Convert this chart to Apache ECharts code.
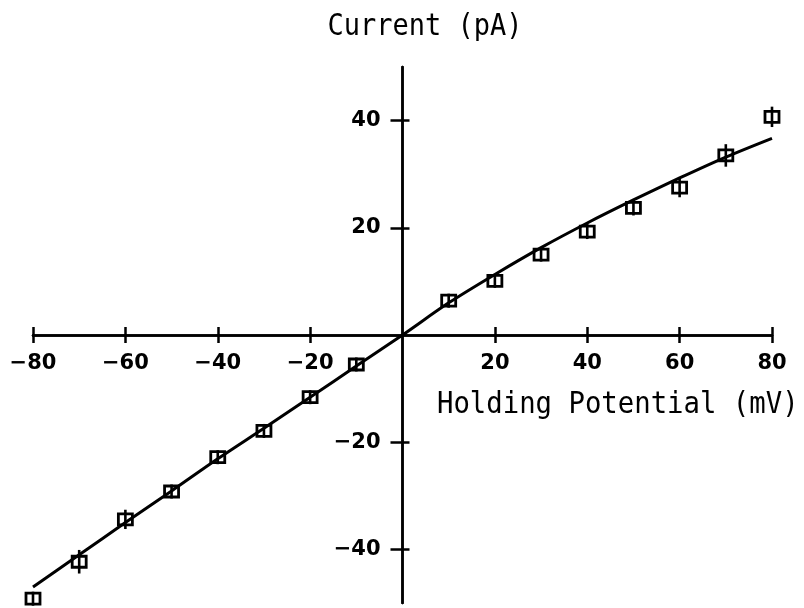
<!DOCTYPE html>
<html>
<head>
<meta charset="utf-8">
<script src="https://cdn.jsdelivr.net/npm/echarts@6/dist/echarts.min.js"></script>
<style>html,body{margin:0;padding:0;background:#fff}#c{width:804px;height:608px}</style>
</head>
<body>
<div id="c"></div>
<script>
// Measured points: holding potential (mV), current (pA), error (pA)
const voltages = [-80, -70, -60, -50, -40, -30, -20, -10, 10, 20, 30, 40, 50, 60, 70, 80];
const currents = [-49.2, -42.3, -34.4, -29.2, -22.8, -17.9, -11.6, -5.5, 6.4, 10.1, 15.0, 19.3, 23.7, 27.5, 33.5, 40.7];
const errors   = [1.2, 2.2, 1.8, 1.0, 1.0, 1.0, 1.0, 1.0, 1.0, 1.0, 1.1, 1.4, 1.4, 1.8, 2.1, 1.9];
// Fitted curve
const fitV = [-80, -70, -60, -50, -40, -30, -20, -10, 0, 10, 20, 30, 40, 50, 60, 70, 80];
const fitI = [-47.0, -41.0, -35.0, -29.1, -23.1, -17.4, -11.6, -5.8, 0, 6.0, 11.3, 16.3, 20.9, 25.2, 29.3, 33.2, 36.7];
// Tick labels
const xTicks = [-80, -60, -40, -20, 20, 40, 60, 80];
const yTicks = [-40, -20, 20, 40];
const xTitle = 'Holding Potential (mV)';
const yTitle = 'Current (pA)';

const W = 804, H = 608;
const G = {left: 33, right: 32, top: 67, bottom: 5};
const xMin = -80, xMax = 80, yMin = -50, yMax = 50;
const gw = W - G.left - G.right, gh = H - G.top - G.bottom;
// distance from grid edges to the zero lines (axes cross at the origin)
const offB = -gh * (0 - yMin) / (yMax - yMin);
const offT = -gh * (yMax - 0) / (yMax - yMin);
const offL = -gw * (0 - xMin) / (xMax - xMin);
const offR = -gw * (xMax - 0) / (xMax - xMin);

const chart = echarts.init(document.getElementById('c'), null, {renderer: 'canvas'});
const fmt = v => String(v).replace('-', '\u2212');
const labelStyle = {color: '#000', fontFamily: 'DejaVu Sans', fontWeight: 'bold', fontSize: 21, formatter: fmt};
const lineSt = {color: '#000', width: 2.5};

const pts = voltages.map((v, i) => [v, currents[i], errors[i]]);

chart.setOption({
  animation: false,
  backgroundColor: '#fff',
  grid: Object.assign({containLabel: false, outerBoundsMode: 'none'}, G),
  xAxis: [
    {type: 'value', min: xMin, max: xMax, interval: 20, position: 'bottom', offset: offB,
     axisLine: {onZero: false, lineStyle: lineSt},
     axisTick: {show: true, length: 8, lineStyle: lineSt, customValues: xTicks},
     axisLabel: Object.assign({margin: 18, customValues: xTicks}, labelStyle),
     splitLine: {show: false}},
    {type: 'value', min: xMin, max: xMax, interval: 20, position: 'top', offset: offT,
     axisLine: {onZero: false, lineStyle: lineSt},
     axisTick: {show: true, length: 8, lineStyle: lineSt, customValues: xTicks},
     axisLabel: {show: false},
     splitLine: {show: false}}
  ],
  yAxis: [
    {type: 'value', min: yMin, max: yMax, interval: 10, position: 'left', offset: offL,
     axisLine: {onZero: false, lineStyle: lineSt},
     axisTick: {show: true, length: 12, lineStyle: lineSt, customValues: yTicks},
     axisLabel: Object.assign({margin: 22, customValues: yTicks}, labelStyle),
     splitLine: {show: false}},
    {type: 'value', min: yMin, max: yMax, interval: 10, position: 'right', offset: offR,
     axisLine: {onZero: false, lineStyle: lineSt},
     axisTick: {show: true, length: 7, lineStyle: lineSt, customValues: yTicks},
     axisLabel: {show: false},
     splitLine: {show: false}}
  ],
  graphic: [
    {type: 'text', x: 425, y: 27, scaleX: 0.9, z: 10,
     style: {text: yTitle, font: '30px "DejaVu Sans Mono"', fill: '#000', align: 'center', verticalAlign: 'middle', textAlign: 'center', textVerticalAlign: 'middle'}},
    {type: 'text', x: 437, y: 405, scaleX: 0.91, z: 10,
     style: {text: xTitle, font: '30px "DejaVu Sans Mono"', fill: '#000', align: 'left', verticalAlign: 'middle', textAlign: 'left', textVerticalAlign: 'middle'}}
  ],
  series: [
    {type: 'line', xAxisIndex: 0, yAxisIndex: 0, data: fitV.map((v, i) => [v, fitI[i]]),
     smooth: 0.3, symbol: 'none', lineStyle: {color: '#000', width: 3}, z: 3},
    {type: 'custom', xAxisIndex: 0, yAxisIndex: 0, data: pts, z: 4,
     renderItem: function (params, api) {
       const c = api.coord([api.value(0), api.value(1)]);
       const top = api.coord([api.value(0), api.value(1) + api.value(2)]);
       const bot = api.coord([api.value(0), api.value(1) - api.value(2)]);
       const y1 = Math.min(top[1], c[1] - 7);
       const y2 = Math.max(bot[1], c[1] + 7);
       return {type: 'group', children: [
         {type: 'rect', shape: {x: c[0] - 7, y: c[1] - 5.5, width: 14, height: 11},
          style: {fill: 'none', stroke: '#000', lineWidth: 2.8}},
         {type: 'line', shape: {x1: c[0], y1: y1, x2: c[0], y2: y2},
          style: {stroke: '#000', lineWidth: 2.6}}
       ]};
     }}
  ]
});
</script>
</body>
</html>
